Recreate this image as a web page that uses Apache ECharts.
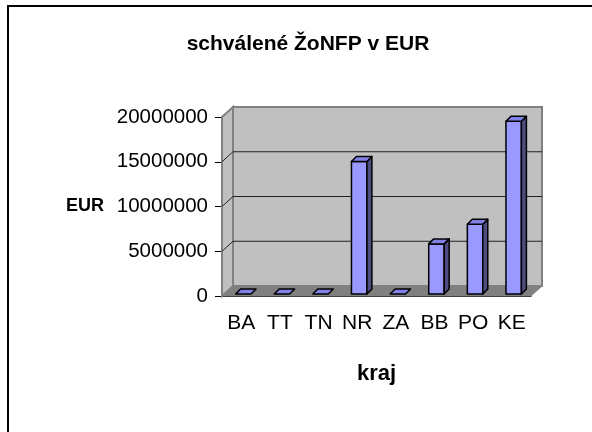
<!DOCTYPE html>
<html>
<head>
<meta charset="utf-8">
<script src="https://cdn.jsdelivr.net/npm/echarts@6/dist/echarts.min.js"></script>
<style>
html, body { margin: 0; padding: 0; background: #fff; }
#chart { width: 592px; height: 432px; }
</style>
</head>
<body>
<div id="chart"></div>
<script>
// data
var categories = ['BA', 'TT', 'TN', 'NR', 'ZA', 'BB', 'PO', 'KE'];
var values = [0, 0, 0, 14800000, 0, 5600000, 7800000, 19300000];
var yTicks = [0, 5000000, 10000000, 15000000, 20000000];
var titleText = 'schválené ŽoNFP v EUR';
var yName = 'EUR';
var xName = 'kraj';

var FONT = "'Liberation Sans', Arial, sans-serif";
// 3d offsets of the walls and of the bars
var WALL_DX = 11, WALL_DY = -10;
var BAR_OX = 2, BAR_OY = -2, BAR_DX = 5, BAR_DY = -5;

var chart = echarts.init(document.getElementById('chart'));

// back wall, side wall, floor and grid lines
function wallsItem(params, api) {
	var cs = params.coordSys;
	var x = cs.x, y = cs.y, w = cs.width, h = cs.height;
	var dx = WALL_DX, dy = WALL_DY;
	var kids = [];
	kids.push({ type: 'polygon', shape: { points: [[x + dx, y + dy], [x + w + dx, y + dy], [x + w + dx, y + h + dy], [x + dx, y + h + dy]] },
		style: { fill: '#c0c0c0', stroke: '#808080', lineWidth: 2 } });
	kids.push({ type: 'polygon', shape: { points: [[x, y], [x + dx, y + dy], [x + dx, y + h + dy], [x, y + h]] },
		style: { fill: '#c0c0c0', stroke: '#808080', lineWidth: 2 } });
	kids.push({ type: 'polygon', shape: { points: [[x, y + h], [x + dx, y + h + dy], [x + w + dx, y + h + dy], [x + w, y + h]] },
		style: { fill: '#808080', stroke: '#808080', lineWidth: 1 } });
	for (var i = 1; i < yTicks.length - 1; i++) {
		var yy = api.coord([0, yTicks[i]])[1];
		kids.push({ type: 'polyline', shape: { points: [[x, yy], [x + dx, yy + dy], [x + w + dx, yy + dy]] },
			style: { fill: null, stroke: '#222', lineWidth: 1 } });
	}
	return { type: 'group', children: kids };
}

// one 3d bar (a flat tile when value is 0)
function barItem(params, api) {
	var idx = api.value(0), v = api.value(1);
	var base = api.coord([idx, 0]), top = api.coord([idx, v]);
	var bw = api.size([1, 0])[0] * 0.4;
	var x0 = base[0] - bw / 2 + BAR_OX, x1 = x0 + bw;
	var yb = base[1] + BAR_OY, yt = top[1] + BAR_OY;
	var dx = BAR_DX, dy = BAR_DY;
	var line = { stroke: '#000', lineWidth: 1.5, lineJoin: 'round' };
	var kids = [];
	if (yb - yt > 0.5) {
		kids.push({ type: 'polygon', shape: { points: [[x0, yt], [x1, yt], [x1, yb], [x0, yb]] },
			style: echarts.util.extend({ fill: '#9999ff' }, line) });
		kids.push({ type: 'polygon', shape: { points: [[x1, yt], [x1 + dx, yt + dy], [x1 + dx, yb + dy], [x1, yb]] },
			style: echarts.util.extend({ fill: '#4d4d80' }, line) });
	}
	kids.push({ type: 'polygon', shape: { points: [[x0, yt], [x0 + dx, yt + dy], [x1 + dx, yt + dy], [x1, yt]] },
		style: echarts.util.extend({ fill: '#8080e6' }, line) });
	return { type: 'group', children: kids };
}

var option = {
	animation: false,
	backgroundColor: '#fff',
	title: {
		text: titleText,
		left: 303,
		top: 29,
		textAlign: 'center',
		textStyle: { fontFamily: FONT, fontSize: 21, fontWeight: 'bold', color: '#000' }
	},
	grid: { left: 222, right: 61, top: 117, bottom: 136 },
	xAxis: {
		type: 'category',
		data: categories,
		boundaryGap: true,
		name: xName,
		nameLocation: 'middle',
		nameGap: 67,
		nameMoveOverlap: false,
		nameTextStyle: { fontFamily: FONT, fontSize: 22, fontWeight: 'bold', color: '#000' },
		axisLine: { lineStyle: { color: '#000', width: 1 } },
		axisTick: { length: 7, lineStyle: { color: '#000' } },
		axisLabel: { interval: 0, margin: 17, fontFamily: FONT, fontSize: 21, color: '#000' },
		splitLine: { show: false }
	},
	yAxis: {
		type: 'value',
		min: 0,
		max: 20000000,
		interval: 5000000,
		name: yName,
		nameLocation: 'middle',
		nameRotate: 0,
		nameGap: 118,
		nameMoveOverlap: false,
		nameTextStyle: { fontFamily: FONT, fontSize: 18, fontWeight: 'bold', color: '#000' },
		axisLine: { show: true, lineStyle: { color: '#000', width: 1 } },
		axisTick: { show: true, length: 7, lineStyle: { color: '#000' } },
		axisLabel: { margin: 14, fontFamily: FONT, fontSize: 20.5, color: '#000', formatter: function(v) { return String(v); } },
		splitLine: { show: false }
	},
	graphic: [
		{ type: 'line', shape: { x1: 7, y1: 6, x2: 592, y2: 6 }, style: { stroke: '#000', lineWidth: 2 } },
		{ type: 'line', shape: { x1: 8, y1: 5, x2: 8, y2: 432 }, style: { stroke: '#000', lineWidth: 2 } }
	],
	series: [
		{
			type: 'custom',
			silent: true,
			z: 1,
			clip: false,
			renderItem: wallsItem,
			data: [[0, 0]]
		},
		{
			type: 'custom',
			z: 3,
			clip: false,
			renderItem: barItem,
			encode: { x: 0, y: 1 },
			data: values.map(function(v, i) { return [i, v]; })
		}
	]
};

chart.setOption(option);
</script>
</body>
</html>
